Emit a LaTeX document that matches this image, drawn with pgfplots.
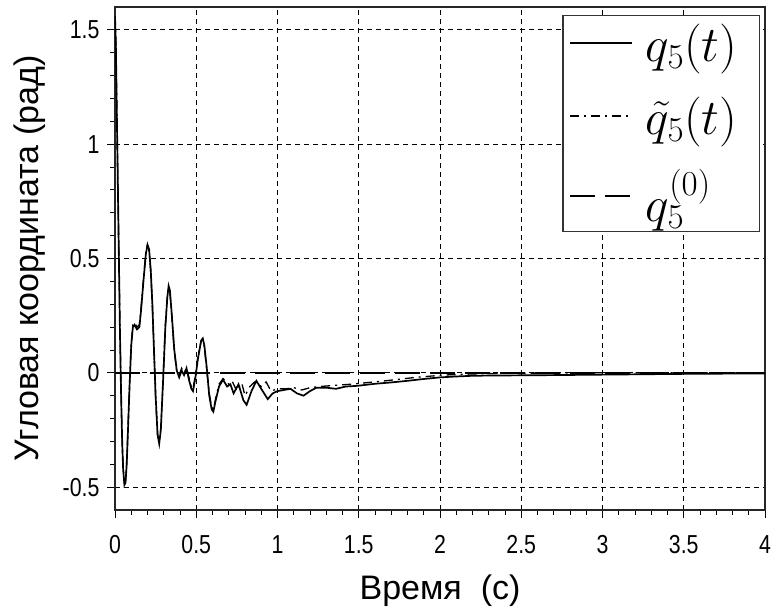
\RequirePackage{fix-cm}
\documentclass[border=0pt]{standalone}
\usepackage{fontspec}
\setmainfont{Liberation Sans}
\newfontfamily\tickfont{Liberation Sans}[FakeStretch=0.82]
\usepackage{pgfplots}
\pgfplotsset{compat=1.18}

\pgfplotstableread{
t y
0.000 1.56
0.005 1.45
0.010 1.20
0.015 0.95
0.020 0.70
0.025 0.45
0.030 0.20
0.035 0.00
0.040 -0.18
0.045 -0.32
0.050 -0.42
0.058 -0.49
0.065 -0.48
0.072 -0.40
0.080 -0.25
0.090 -0.05
0.100 0.12
0.110 0.20
0.120 0.21
0.135 0.19
0.150 0.20
0.160 0.27
0.175 0.40
0.190 0.52
0.200 0.56
0.210 0.54
0.220 0.45
0.230 0.30
0.240 0.10
0.250 -0.10
0.262 -0.27
0.272 -0.31
0.282 -0.25
0.295 -0.05
0.310 0.20
0.322 0.33
0.330 0.38
0.338 0.36
0.350 0.25
0.365 0.10
0.380 0.01
0.395 -0.02
0.410 0.01
0.425 -0.01
0.440 0.02
0.455 -0.03
0.470 -0.07
0.480 -0.08
0.495 -0.02
0.510 0.06
0.530 0.14
0.540 0.15
0.550 0.12
0.565 0.02
0.580 -0.10
0.595 -0.16
0.605 -0.17
0.620 -0.12
0.640 -0.06
0.665 -0.03
0.690 -0.06
0.710 -0.05
0.730 -0.09
0.760 -0.05
0.790 -0.12
0.810 -0.14
0.840 -0.08
0.870 -0.035
0.900 -0.07
0.940 -0.115
0.970 -0.09
1.000 -0.08
1.040 -0.075
1.080 -0.07
1.120 -0.09
1.160 -0.10
1.200 -0.08
1.240 -0.065
1.300 -0.065
1.360 -0.07
1.420 -0.06
1.490 -0.057
1.600 -0.048
1.700 -0.042
1.800 -0.035
1.900 -0.027
2.000 -0.020
2.100 -0.016
2.200 -0.013
2.300 -0.012
2.500 -0.011
2.700 -0.010
3.000 -0.008
3.300 -0.006
3.600 -0.004
4.000 -0.003
}\qfive

\pgfplotstableread{
t y
0.000 1.56
0.005 1.46
0.010 1.22
0.015 0.97
0.020 0.72
0.025 0.47
0.030 0.22
0.035 0.02
0.040 -0.16
0.045 -0.31
0.050 -0.41
0.058 -0.48
0.065 -0.47
0.072 -0.39
0.080 -0.24
0.090 -0.04
0.100 0.13
0.110 0.21
0.120 0.22
0.135 0.20
0.150 0.21
0.160 0.28
0.175 0.41
0.190 0.53
0.200 0.56
0.210 0.53
0.220 0.44
0.230 0.29
0.240 0.09
0.250 -0.11
0.262 -0.27
0.272 -0.30
0.282 -0.24
0.295 -0.04
0.310 0.21
0.322 0.33
0.330 0.37
0.338 0.35
0.350 0.24
0.365 0.09
0.380 0.01
0.395 -0.01
0.410 0.02
0.425 0.00
0.440 0.02
0.455 -0.02
0.470 -0.06
0.480 -0.07
0.495 -0.01
0.510 0.07
0.530 0.14
0.540 0.15
0.550 0.11
0.565 0.01
0.580 -0.09
0.595 -0.15
0.605 -0.16
0.620 -0.11
0.640 -0.05
0.665 -0.025
0.700 -0.05
0.720 -0.035
0.750 -0.08
0.780 -0.045
0.800 -0.10
0.830 -0.06
0.860 -0.04
0.900 -0.06
0.930 -0.04
0.960 -0.08
1.000 -0.07
1.050 -0.07
1.100 -0.065
1.150 -0.075
1.200 -0.065
1.260 -0.06
1.350 -0.055
1.450 -0.05
1.550 -0.043
1.650 -0.036
1.750 -0.028
1.850 -0.020
1.950 -0.014
2.050 -0.009
2.200 -0.005
2.400 -0.002
2.700 -0.001
3.000 0.000
3.500 0.000
4.000 0.000
}\qtilde

\pgfplotstableread{
t y
0 0
4 0
}\qzero

\begin{document}
\begin{tikzpicture}
\begin{axis}[
  name=ax,
  scale only axis,
  width=650pt, height=503pt,
  xmin=0, xmax=4, ymin=-0.6, ymax=1.6,
  xtick={0,0.5,...,4},
  ytick={-0.5,0,0.5,1,1.5},
  minor tick num=4,
  xtick pos=left, ytick pos=left,
  tick align=outside,
  major tick length=8pt, minor tick length=5pt,
  tick style={black, line width=0.9pt},
  axis line style={line width=1.3pt, black!85},
  grid=major,
  major grid style={black, line width=0.8pt, dash pattern=on 5pt off 4pt},
  /pgf/number format/assume math mode=true,
  xticklabel style={font=\tickfont\fontsize{26}{30}\selectfont, yshift=-14pt},
  yticklabel style={font=\tickfont\fontsize{26}{30}\selectfont, xshift=-4pt},
  label style={font=\fontsize{34}{40}\selectfont},
  xlabel={Время\ \ (с)},
  ylabel={Угловая координата (рад)},
  xlabel style={yshift=-14pt},
  ylabel style={yshift=10pt},
  legend style={at={(0.992,0.984)}, anchor=north east, draw=black!80,
    line width=1.2pt, fill=white,
    font=\fontsize{50}{54}\selectfont,
    inner xsep=6pt, inner ysep=6pt, row sep=30pt, column sep=11pt,
    nodes={inner sep=2pt}},
  legend cell align=left,
  legend image code/.code={\draw[#1, line width=1.8pt] plot coordinates {(0pt,0pt) (62pt,0pt)};},
]
\coordinate (bl) at (rel axis cs:0,0);
\coordinate (tr) at (rel axis cs:1,1);
\addplot[black, line width=1.7pt] table[x=t,y=y] {\qfive};
\addlegendentry{$q_5(t)$\rule{14pt}{0pt}}
\addplot[black, line width=1.3pt, dash pattern=on 9pt off 5pt on 2pt off 5pt] table[x=t,y=y] {\qtilde};
\addlegendentry{$\tilde{q}_5(t)$\rule{14pt}{0pt}}
\addplot[black, line width=1.7pt, dash pattern=on 25pt off 10pt] table[x=t,y=y] {\qzero};
\addlegendentry{$q_5^{(0)}$}
\end{axis}
\pgfresetboundingbox
\path ([shift={(-115pt,-100pt)}]bl) rectangle ([shift={(7pt,7pt)}]tr);
\end{tikzpicture}
\end{document}
